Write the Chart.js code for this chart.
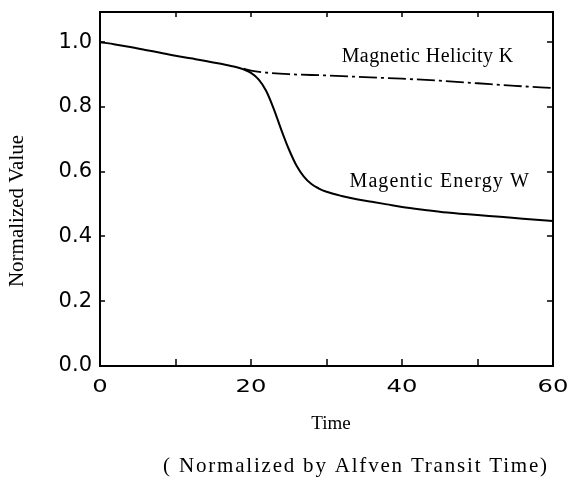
<!DOCTYPE html>
<html>
<head>
<meta charset="utf-8">
<script src="https://cdn.jsdelivr.net/npm/chart.js@4"></script>
<style>
  html, body { margin: 0; padding: 0; background: #fff; }
  #wrap { width: 570px; height: 482px; position: relative; }
</style>
</head>
<body>
<div id="wrap"><canvas id="c"></canvas></div>
<script>
// ---- data ----
const energyTime = [0,2,4,6,8,10,12,14,16,18,19,20,21,22,23,24,25,26,27,28,29,30,32,34,36,38,40,43,46,50,53,56,60];
const energyW    = [1.000,0.993,0.985,0.976,0.967,0.958,0.950,0.942,0.933,0.923,0.916,0.905,0.885,0.850,0.795,0.730,0.670,0.620,0.585,0.562,0.548,0.538,0.525,0.515,0.507,0.499,0.491,0.482,0.474,0.466,0.461,0.455,0.448];
const helicityTime = [19,20,22,25,30,35,40,45,50,55,60];
const helicityK    = [0.918,0.912,0.906,0.901,0.897,0.892,0.887,0.881,0.873,0.865,0.858];
const xTickValues = [0,10,20,30,40,50,60];
const xLabelValues = [0,20,40,60];
const yTickValues = [0,0.2,0.4,0.6,0.8,1.0];
const seriesLabels = { K: 'Magnetic Helicity K', W: 'Magentic Energy W' };
const labelAnchors = { K: [43.4, 0.955], W: [45.0, 0.568] };
const xTitle = 'Time';
const xSubtitle = '( Normalized by Alfven Transit Time)';
const yTitle = 'Normalized Value';

const toPts = (xs, ys) => xs.map((x, i) => ({ x: x, y: ys[i] }));

const decor = {
  id: 'decor',
  afterDatasetsDraw(chart) {
    const ctx = chart.ctx;
    const a = chart.chartArea;
    const xs = chart.scales.x, ys = chart.scales.y;
    ctx.save();
    ctx.strokeStyle = '#000';
    ctx.lineWidth = 2;
    ctx.strokeRect(a.left, a.top, a.right - a.left, a.bottom - a.top);
    ctx.lineWidth = 1.5;
    ctx.beginPath();
    xTickValues.forEach(v => {
      if (v === 0 || v === 60) return;
      const px = Math.round(xs.getPixelForValue(v));
      ctx.moveTo(px, a.bottom); ctx.lineTo(px, a.bottom - 7);
      ctx.moveTo(px, a.top); ctx.lineTo(px, a.top + 5);
    });
    yTickValues.forEach(v => {
      if (v === 0) return;
      const py = Math.round(ys.getPixelForValue(v));
      ctx.moveTo(a.left, py); ctx.lineTo(a.left + 5, py);
      ctx.moveTo(a.right, py); ctx.lineTo(a.right - 6, py);
    });
    ctx.stroke();

    // x tick labels (wide)
    ctx.fillStyle = '#000';
    ctx.textAlign = 'center';
    ctx.textBaseline = 'middle';
    ctx.font = '18px "DejaVu Sans"';
    xLabelValues.forEach(v => {
      const px = xs.getPixelForValue(v);
      ctx.save();
      ctx.translate(px, a.bottom + 21);
      ctx.scale(1.35, 1);
      ctx.fillText(String(v), 0, 0);
      ctx.restore();
    });

    // series labels
    ctx.font = '20px "Liberation Serif"';
    ctx.letterSpacing = '0.4px';
    ctx.fillText(seriesLabels.K, xs.getPixelForValue(labelAnchors.K[0]), ys.getPixelForValue(labelAnchors.K[1]));
    ctx.letterSpacing = '1.1px';
    ctx.fillText(seriesLabels.W, xs.getPixelForValue(labelAnchors.W[0]), ys.getPixelForValue(labelAnchors.W[1]));
    ctx.letterSpacing = '0px';

    // axis titles
    ctx.font = '19px "Liberation Serif"';
    ctx.fillText(xTitle, 331, 424);
    ctx.font = '21px "Liberation Serif"';
    ctx.letterSpacing = '1.8px';
    ctx.fillText(xSubtitle, 356, 466);
    ctx.letterSpacing = '0px';
    ctx.save();
    ctx.translate(17, 211);
    ctx.rotate(-Math.PI / 2);
    ctx.font = '21px "Liberation Serif"';
    ctx.fillText(yTitle, 0, 0);
    ctx.restore();
    ctx.restore();
  }
};

new Chart(document.getElementById('c'), {
  type: 'line',
  data: {
    datasets: [
      {
        label: seriesLabels.W,
        data: toPts(energyTime, energyW),
        borderColor: '#000',
        borderWidth: 2,
        pointRadius: 0,
        cubicInterpolationMode: 'monotone',
        fill: false
      },
      {
        label: seriesLabels.K,
        data: toPts(helicityTime, helicityK),
        borderColor: '#000',
        borderWidth: 1.8,
        borderDash: [18, 4, 3, 4],
        pointRadius: 0,
        cubicInterpolationMode: 'monotone',
        fill: false
      }
    ]
  },
  options: {
    responsive: true,
    maintainAspectRatio: false,
    animation: false,
    layout: { padding: { left: 0, right: 17, top: 12, bottom: 0 } },
    plugins: { legend: { display: false }, tooltip: { enabled: false } },
    scales: {
      x: {
        type: 'linear',
        min: 0, max: 60,
        grid: { display: false, drawTicks: false },
        border: { display: false },
        ticks: { display: false },
        afterBuildTicks: s => { s.ticks = xTickValues.map(v => ({ value: v })); },
        afterFit: s => { s.height = 116; s.paddingLeft = 0; s.paddingRight = 0; }
      },
      y: {
        min: 0, max: 1.093,
        grid: { display: false, drawTicks: false },
        border: { display: false },
        ticks: {
          color: '#000',
          padding: 8,
          font: { family: 'DejaVu Sans', size: 21 },
          callback: v => Number(v).toFixed(1)
        },
        afterBuildTicks: s => { s.ticks = yTickValues.map(v => ({ value: v })); },
        afterFit: s => { s.width = 100; s.paddingTop = 0; s.paddingBottom = 0; }
      }
    }
  },
  plugins: [decor]
});
</script>
</body>
</html>
